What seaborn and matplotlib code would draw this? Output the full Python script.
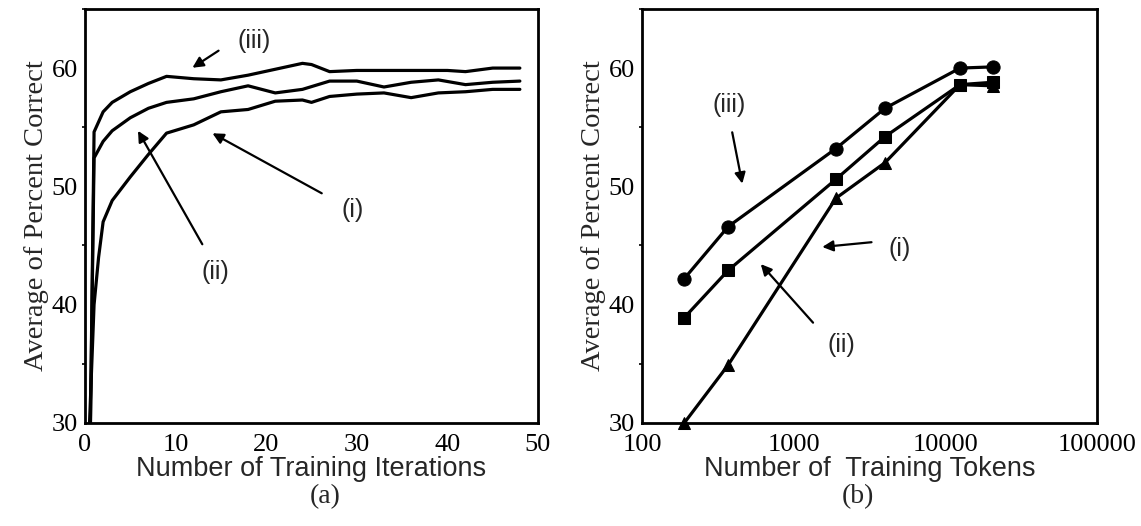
"""
Recreation of the two-panel learning-curve figure:
(a) accuracy vs training iterations, (b) accuracy vs training tokens.
"""

import numpy as np
import pandas as pd
import matplotlib
matplotlib.use("Agg")
import matplotlib.pyplot as plt
import seaborn as sns
from matplotlib.ticker import MultipleLocator

sns.set_style("white")
plt.rcParams['font.family'] = ['Liberation Serif', 'DejaVu Serif']

SERIF = 'Liberation Serif'
SANS = 'Liberation Sans'

# ── Panel (a): curves vs iterations ──────────────────────────────
iter_iii = [0.6, 1.0, 2, 3, 5, 7, 9, 12, 15, 18, 21, 24, 25, 27, 30, 35, 40, 42, 45, 48]
acc_iii = [30.0, 54.6, 56.3, 57.1, 58.0, 58.7, 59.3, 59.1, 59.0, 59.4, 59.9, 60.4, 60.3,
           59.7, 59.8, 59.8, 59.8, 59.7, 60.0, 60.0]

iter_ii = [0.6, 1.0, 2, 3, 5, 7, 9, 12, 15, 18, 21, 24, 27, 30, 33, 36, 39, 42, 45, 48]
acc_ii = [30.0, 52.4, 53.8, 54.7, 55.8, 56.6, 57.1, 57.4, 58.0, 58.5, 57.9, 58.2, 58.9,
          58.9, 58.4, 58.8, 59.0, 58.6, 58.8, 58.9]

iter_i = [0.5, 1.0, 1.5, 2, 3, 5, 7, 9, 12, 15, 18, 21, 24, 25, 27, 30, 33, 36, 39, 42, 45, 48]
acc_i = [30.0, 40.0, 44.0, 47.0, 48.8, 50.8, 52.7, 54.5, 55.2, 56.3, 56.5, 57.2, 57.3,
         57.1, 57.6, 57.8, 57.9, 57.5, 57.9, 58.0, 58.2, 58.2]

# ── Panel (b): accuracy vs tokens ────────────────────────────────
tokens = [190, 370, 1900, 4000, 12500, 20500]
tok_iii = [42.2, 46.6, 53.2, 56.6, 60.0, 60.1]   # circles
tok_ii = [38.9, 42.9, 50.6, 54.2, 58.6, 58.8]    # squares
tok_i = [30.0, 34.9, 49.0, 52.0, 58.6, 58.5]     # triangles

xticks_b = [100, 1000, 10000, 100000]
xticklabels_b = ['100', '1000', '10000', '100000']

fig = plt.figure(figsize=(11.41, 5.26), dpi=100)
ax_a = fig.add_axes([0.0745, 0.196, 0.397, 0.787])
ax_b = fig.add_axes([0.5627, 0.196, 0.3987, 0.787])

LW = 2.3
for xs, ys in [(iter_iii, acc_iii), (iter_ii, acc_ii), (iter_i, acc_i)]:
    sns.lineplot(x=xs, y=ys, ax=ax_a, color='black', lw=LW, sort=False,
                 estimator=None)

sns.lineplot(x=tokens, y=tok_iii, ax=ax_b, color='black', lw=LW, marker='o',
             markersize=9.5, markeredgecolor='black', estimator=None)
sns.lineplot(x=tokens, y=tok_ii, ax=ax_b, color='black', lw=LW, marker='s',
             markersize=8.5, markeredgecolor='black', estimator=None)
sns.lineplot(x=tokens, y=tok_i, ax=ax_b, color='black', lw=LW, marker='^',
             markersize=8.5, markeredgecolor='black', estimator=None, clip_on=False)

# Axes styling
ax_a.set_xlim(0, 50)
ax_a.set_ylim(30, 65)
ax_a.set_xticks([0, 10, 20, 30, 40, 50])
ax_a.set_yticks([30, 40, 50, 60])

ax_b.set_xscale('log')
ax_b.set_xlim(100, 100000)
ax_b.set_ylim(30, 65)
ax_b.set_xticks(xticks_b)
ax_b.set_xticklabels(xticklabels_b)
ax_b.minorticks_off()
ax_b.set_yticks([30, 40, 50, 60])

for ax in (ax_a, ax_b):
    ax.yaxis.set_minor_locator(MultipleLocator(5))
    for sp in ax.spines.values():
        sp.set_linewidth(2.0)
        sp.set_color('black')
    ax.tick_params(axis='both', which='major', direction='out', length=4,
                   width=1.5, labelsize=19, pad=1, colors='black')
    ax.tick_params(axis='x', which='major', pad=4)
    ax.tick_params(axis='y', which='minor', direction='out', length=2.5,
                   width=1.2, colors='black', left=True)
    for lab in ax.get_xticklabels() + ax.get_yticklabels():
        lab.set_fontfamily(SERIF)
    ax.set_ylabel('Average of Percent Correct', fontsize=20.5, family=SERIF,
                  labelpad=2)

ax_a.set_xlabel('Number of Training Iterations', fontsize=19.5, family=SANS,
                labelpad=0)
ax_b.set_xlabel('Number of  Training Tokens', fontsize=19.5, family=SANS,
                labelpad=0)

# Annotations with arrows
arrow = dict(arrowstyle='-|>', color='black', lw=1.6, mutation_scale=16)
fs_ann = 18

ax_a.annotate('(iii)', xy=(11.6, 59.9), xytext=(18.7, 62.3), fontsize=fs_ann,
              family=SANS, ha='center', va='center')
ax_a.annotate('', xy=(11.6, 59.9), xytext=(15.0, 61.6), arrowprops=arrow)
ax_a.annotate('(i)', xy=(13.8, 54.6), xytext=(29.5, 48.0), fontsize=fs_ann,
              family=SANS, ha='center', va='center')
ax_a.annotate('', xy=(13.8, 54.6), xytext=(26.4, 49.3), arrowprops=arrow)
ax_a.annotate('(ii)', xy=(5.7, 54.9), xytext=(14.4, 42.8), fontsize=fs_ann,
              family=SANS, ha='center', va='center')
ax_a.annotate('', xy=(5.7, 54.9), xytext=(13.1, 44.9), arrowprops=arrow)

ax_b.annotate('(iii)', xy=(460, 50.0), xytext=(376, 56.9), fontsize=fs_ann,
              family=SANS, ha='center', va='center')
ax_b.annotate('', xy=(462, 50.0), xytext=(390, 54.8), arrowprops=arrow)
ax_b.annotate('(i)', xy=(1480, 44.85), xytext=(5000, 44.7), fontsize=fs_ann,
              family=SANS, ha='center', va='center')
ax_b.annotate('', xy=(1480, 44.85), xytext=(3400, 45.3), arrowprops=arrow)
ax_b.annotate('(ii)', xy=(590, 43.6), xytext=(2050, 36.6), fontsize=fs_ann,
              family=SANS, ha='center', va='center')
ax_b.annotate('', xy=(590, 43.6), xytext=(1380, 38.3), arrowprops=arrow)

# Sub-captions
fig.text(0.285, 0.055, '(a)', fontsize=20, family=SERIF, ha='center', va='center')
fig.text(0.752, 0.055, '(b)', fontsize=20, family=SERIF, ha='center', va='center')

fig.savefig('out.png', dpi=100)
